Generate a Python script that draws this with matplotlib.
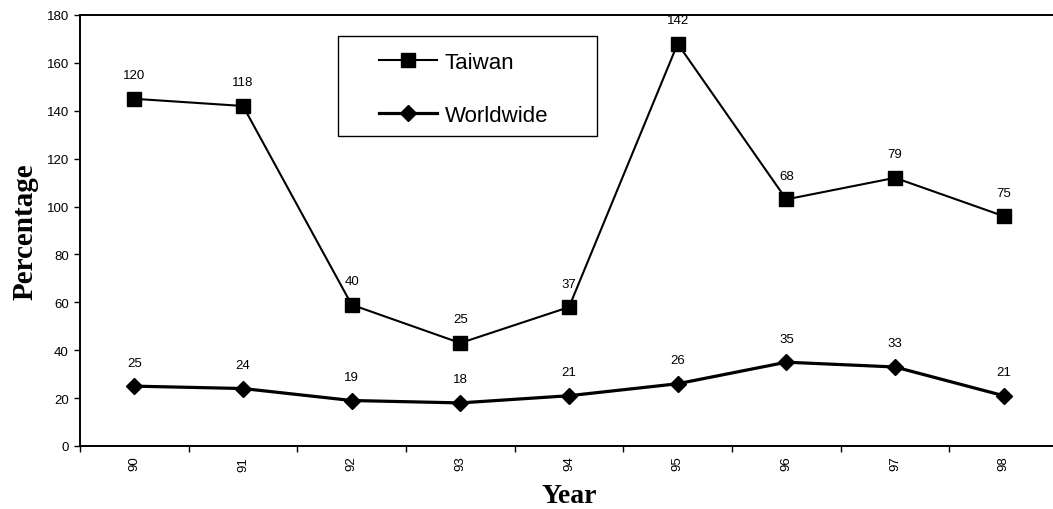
import matplotlib
matplotlib.use("Agg")
import matplotlib.pyplot as plt
from matplotlib.patches import Rectangle

years = ["90", "91", "92", "93", "94", "95", "96", "97", "98"]
taiwan_plot = [145, 142, 59, 43, 58, 168, 103, 112, 96]
taiwan_labels = ["120", "118", "40", "25", "37", "142", "68", "79", "75"]
worldwide = [25, 24, 19, 18, 21, 26, 35, 33, 21]
worldwide_labels = ["25", "24", "19", "18", "21", "26", "35", "33", "21"]
yticks = [0, 20, 40, 60, 80, 100, 120, 140, 160, 180]

plt.rcParams['font.family'] = ['Liberation Sans', 'DejaVu Sans']

W, H = 1053, 510
fig = plt.figure(figsize=(W / 100, H / 100), dpi=100)
ax = fig.add_axes([80 / W, (H - 447) / H, (1058 - 80) / W, (447 - 16) / H])

x = list(range(len(years)))
ax.plot(x, taiwan_plot, color='black', lw=1.5, marker='s', ms=10.5,
        markerfacecolor='black', markeredgecolor='black', label='Taiwan', zorder=3)
ax.plot(x, worldwide, color='black', lw=2.3, marker='D', ms=8.5,
        markerfacecolor='black', markeredgecolor='black', label='Worldwide', zorder=3)

for xi, yv, lab in zip(x, taiwan_plot, taiwan_labels):
    ax.annotate(lab, (xi, yv), xytext=(0, 17), textcoords='offset points',
                ha='center', va='center', fontsize=9.5, clip_on=False)
for xi, yv, lab in zip(x, worldwide, worldwide_labels):
    ax.annotate(lab, (xi, yv), xytext=(0, 17), textcoords='offset points',
                ha='center', va='center', fontsize=9.5)

ax.set_xlim(-0.5, len(years) - 0.5)
ax.set_ylim(0, 180)
ax.set_yticks(yticks)
ax.set_yticklabels([str(v) for v in yticks], fontsize=9.5)
ax.set_xticks(x)
ax.set_xticklabels(years, rotation=90, fontsize=9.5)
ax.set_xticks([i - 0.5 for i in range(len(years) + 1)], minor=True)
ax.tick_params(axis='x', which='major', length=0, pad=7)
ax.tick_params(axis='x', which='minor', length=4, width=1, direction='out')
ax.tick_params(axis='y', which='major', length=4, width=1, direction='out', pad=4)

for s in ['left', 'bottom', 'top']:
    ax.spines[s].set_linewidth(1.4)
ax.spines['right'].set_visible(False)

ax.set_ylabel('Percentage', fontsize=21, fontweight='bold', family='Liberation Serif', labelpad=6)
ax.set_xlabel('Year', fontsize=20, fontweight='bold', family='Liberation Serif', labelpad=9)

# legend frame
x0 = (338 - 80) / 978
x1 = (597 - 80) / 978
y0 = (447 - 137) / 431
y1 = (447 - 37) / 431
ax.add_patch(Rectangle((x0, y0), x1 - x0, y1 - y0, transform=ax.transAxes,
                       fill=True, facecolor='white', edgecolor='black', lw=1.0, zorder=4))
leg = ax.legend(loc='upper left', bbox_to_anchor=((379 - 80) / 978, (447 - 53) / 431),
                frameon=False, fontsize=16, handlelength=2.6, handletextpad=0.35,
                labelspacing=1.45, borderpad=0, borderaxespad=0)
leg.set_zorder(5)

fig.savefig('out.png', dpi=100)
